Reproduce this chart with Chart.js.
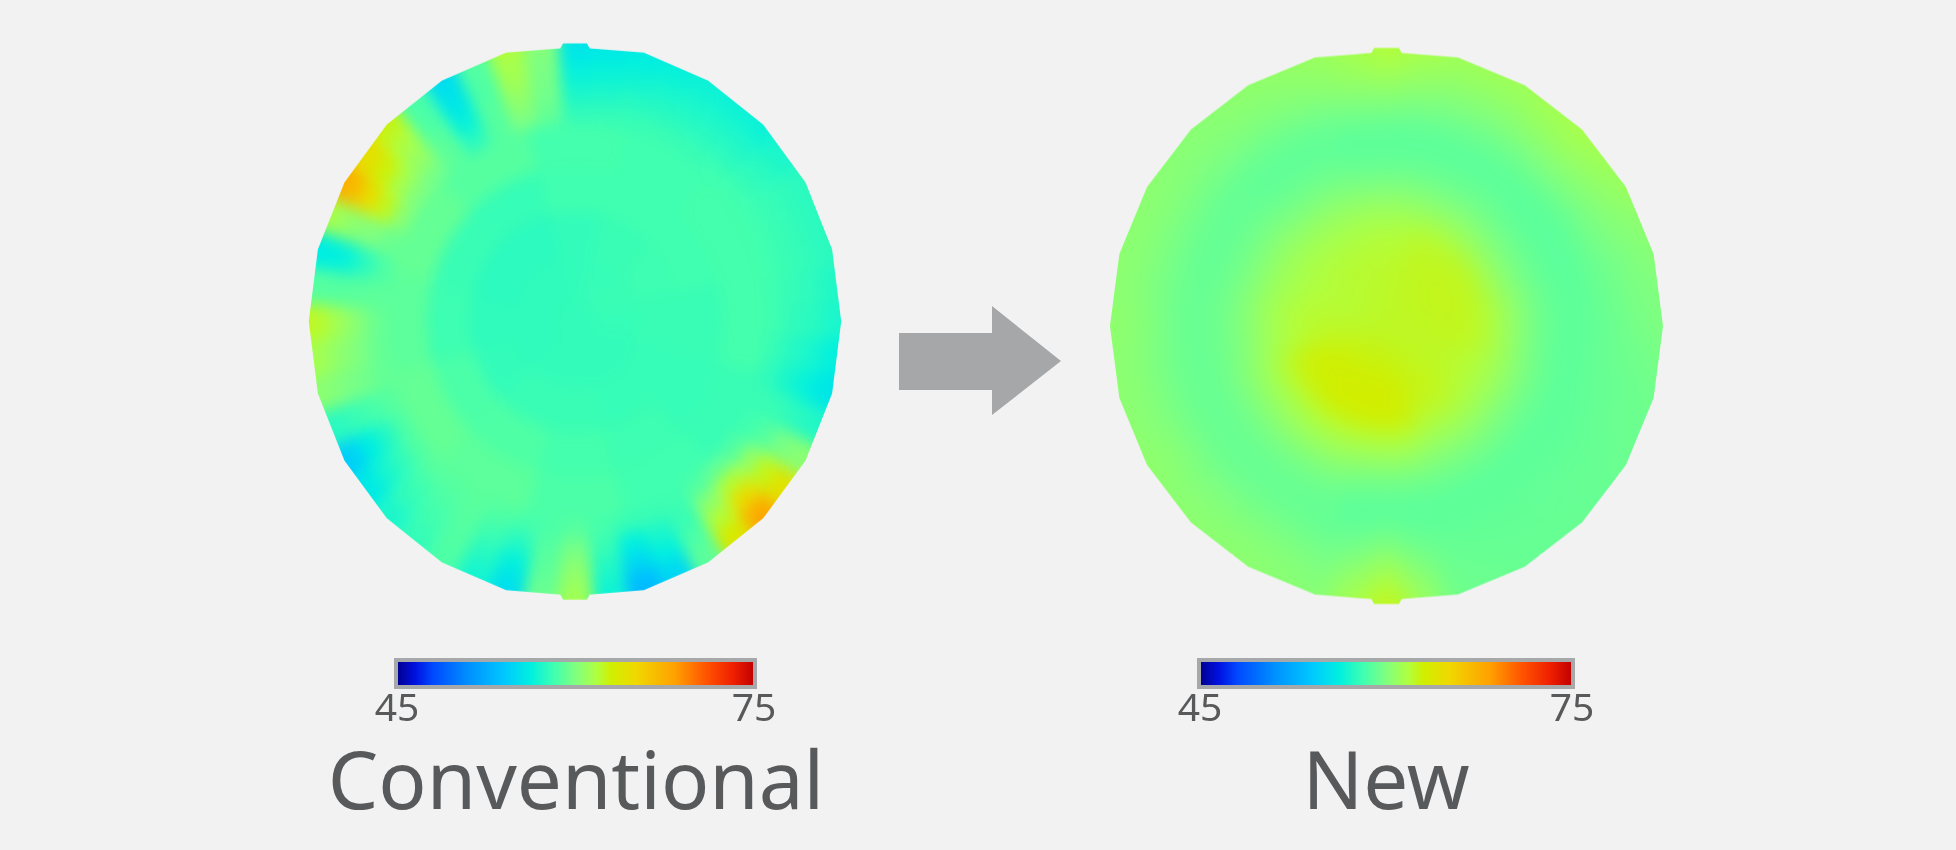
<!DOCTYPE html>
<html>
<head>
<meta charset="utf-8">
<title>Conventional vs New</title>
<script src="https://cdn.jsdelivr.net/npm/chart.js@4"></script>
<style>
  html, body { margin: 0; width: 1956px; height: 850px; background: #f2f2f2; overflow: hidden; }
  .map { position: absolute; }
  #leftChart { filter: blur(7px); }
  #rightChart { filter: blur(12px); }
  .bar { position: absolute; }
  #arrow {
    position: absolute; left: 899px; top: 306px; width: 162px; height: 109px; background: #a6a7a9;
    clip-path: polygon(0 27px, 93px 27px, 93px 0, 162px 55px, 93px 109px, 93px 84px, 0 84px);
  }
</style>
</head>
<body>
<div class="map" id="leftMap"><canvas id="leftChart"></canvas></div>
<div class="map" id="rightMap"><canvas id="rightChart"></canvas></div>
<div id="arrow"></div>
<div class="bar"><canvas id="leftBar"></canvas></div>
<div class="bar"><canvas id="rightBar"></canvas></div>
<script>
const scaleMin = 45;
const scaleMax = 75;
const scaleTicks = [45, 75];

// conventional map, rings from the rim inwards, sectors clockwise from the top
const leftRim = [55.5,55.7,56,56.2,56.5,56.5,56.5,57,57.5,57.5,57.5,57.2,57,56.2,55.5,57.2,60.5,64.5,68.5,64,59,54.5,53,56.5,61.5,59.5,55,56.7,58.5,57.7,57,55.5,54,57.5,60.5,61.5,62.5,58.7,56,62,68,65,63,58.5,55,58.7,62,60.5];
const leftOuter1 = [55.8,56,56.3,56.5,56.7,56.7,56.7,57.1,57.6,57.6,57.6,57.3,57.1,56.4,55.8,57.3,60.3,64,67.5,63.5,59,55,53.5,56.8,61,59.3,55.5,57,58.6,57.9,57.2,56,54.7,57.6,60.3,61.2,62.1,58.8,56.2,61,66.8,64.2,62.3,58.5,55.4,58.7,61.5,60];
const leftOuter2 = [56.45,56.6,56.8,57,57.1,57.15,57.2,57.5,57.8,57.8,57.8,57.65,57.5,57,56.45,57.6,59.8,62.5,64.5,62,58.5,56.3,55,57.3,60.5,59,56.4,57.5,58.7,58.2,57.8,57,56.2,58,59.9,60.5,61.2,58.8,56.5,60.3,64.5,62.8,61.5,58.6,55.8,58.6,61.2,59.8];
const leftOuter3 = [57.05,57.2,57.4,57.45,57.5,57.55,57.6,57.8,58,58,58,57.85,57.7,57.4,57.05,57.9,58.8,60.8,62,60.5,58,57.1,56.3,57.9,59.8,58.8,57.4,58.1,58.8,58.5,58.2,57.75,57.3,58.4,59.6,60,60.3,58.9,57.5,60,62.4,61.4,60.8,58.9,56.5,58.8,60.6,59.6];
const leftOuter4 = [57.7,57.8,57.9,58,58,58,58.1,58.2,58.2,58.2,58.2,58.1,58.1,57.9,57.7,58,58.2,58.8,59.3,58.8,58.1,58,57.9,58.3,58.9,58.5,58.3,58.6,58.9,58.8,58.8,58.6,58.5,58.8,59.2,59.3,59.4,59,58.5,59.4,60.4,60.1,59.8,59,57.5,58.8,60,59.2];
const leftInner1 = [58.3,58.2,58.3,58.3,58,58.2,58.5,59,59.2,59,59.2,58.8];
const leftInner2 = [58.2,58.2,58.2,58,57.9,58.1,58.3,58.6,58.5,58.1,58,57.9];
const leftInner3 = [57.8,58,58.1,58,57.9,57.9,58,58,57.8,57.7,57.6,57.6];
const leftInner4 = [57.8,57.9,58,57.9,57.8,57.8,57.8,57.8,57.7,57.7,57.7,57.7];
const leftCore = [57.8];

// new map
const rightRim = [62,61.6,61.2,61.2,61.2,61.4,61.6,61.3,61,60.6,60.3,60.1,60,59.8,59.6,59.5,59.4,59.3,59.3,59.3,59.3,59.4,59.5,61,62.7,61.5,60.3,60.4,60.5,60.5,60.5,60.5,60.6,60.5,60.5,60.5,60.6,60.5,60.5,60.5,60.5,60.4,60.4,60.5,60.6,60.8,61,61.5];
const rightOuter1 = [61.7,61.3,61,61,61,61.2,61.3,61.1,60.8,60.4,60.2,60,59.9,59.7,59.5,59.4,59.4,59.3,59.3,59.3,59.3,59.4,59.5,60.8,62.2,61.2,60.2,60.3,60.4,60.4,60.4,60.4,60.5,60.4,60.4,60.4,60.5,60.4,60.4,60.4,60.4,60.3,60.3,60.4,60.5,60.6,60.8,61.2];
const rightOuter2 = [61,60.7,60.5,60.5,60.5,60.7,60.8,60.6,60.4,60.1,59.9,59.8,59.7,59.5,59.4,59.4,59.3,59.3,59.2,59.2,59.2,59.3,59.4,60.3,61.4,60.6,59.9,60.1,60.2,60.2,60.2,60.2,60.3,60.2,60.2,60.2,60.3,60.2,60.2,60.2,60.2,60.1,60.1,60.2,60.2,60.3,60.5,60.8];
const rightOuter3 = [60.3,60.1,60,60,60,60.1,60.2,60.1,59.9,59.8,59.6,59.5,59.4,59.4,59.3,59.3,59.2,59.2,59.2,59.2,59.2,59.2,59.3,59.7,60.5,59.9,59.6,59.7,59.8,59.8,59.8,59.8,59.9,59.8,59.8,59.8,59.9,59.8,59.8,59.8,59.8,59.8,59.8,59.8,59.8,59.9,60,60.2];
const rightOuter4 = [59.5,59.4,59.4,59.4,59.4,59.4,59.5,59.4,59.3,59.3,59.2,59.2,59.2,59.2,59.2,59.1,59.1,59.1,59.1,59.1,59.1,59.1,59.1,59.2,59.6,59.3,59.2,59.3,59.4,59.4,59.4,59.4,59.4,59.4,59.4,59.4,59.4,59.4,59.4,59.4,59.4,59.3,59.3,59.3,59.3,59.3,59.4,59.5];
const rightInner1 = [59,59,58.9,59,59,59,59,59.3,59.3,59.3,59.2,59.1];
const rightInner2 = [59.3,59.3,59.2,59.3,59.4,59.5,59.5,59.8,59.8,59.7,59.6,59.5];
const rightInner3 = [60.1,60,59.9,60.1,60.2,60.3,60.6,60.8,60.7,60.4,60.3,60.2];
const rightInner4 = [61,61,60.9,61.2,61.2,61.3,61.8,61.8,61.7,61.3,61.1,61];
const rightInner5 = [61.8,62.2,62.3,62.2,61.9,62.2,63,63,62.8,61.9,61.6,61.6];
const rightInner6 = [62.1,62.4,62.5,62.5,62.2,62.6,63.2,63.1,63,62.2,61.9,62];
const rightInner7 = [62.2,62.4,62.5,62.4,62.3,62.5,62.9,62.9,62.8,62.2,62,62.1];
const rightInner8 = [62.2,62.3,62.4,62.3,62.3,62.4,62.6,62.6,62.5,62.2,62.1,62.2];
const rightCore = [62.3];

const leftWeights = [0.08, 0.07, 0.07, 0.07, 0.07, 0.16, 0.16, 0.16, 0.16, 0.08];
const rightWeights = [0.15, 0.07, 0.07, 0.07, 0.07, 0.1, 0.08, 0.08, 0.08, 0.08, 0.08, 0.08, 0.08, 0.06];

const palette = [
  [0, [0, 0, 143]], [0.05, [0, 16, 224]], [0.1, [0, 72, 255]], [0.2, [0, 144, 255]], [0.3, [0, 200, 255]],
  [0.375, [0, 240, 224]], [0.44, [64, 255, 176]], [0.5, [128, 255, 128]], [0.56, [176, 255, 64]], [0.6, [208, 239, 0]],
  [0.67, [240, 216, 0]], [0.78, [255, 160, 0]], [0.87, [255, 80, 0]], [0.94, [240, 32, 0]], [1, [192, 0, 0]]
];

function colorAt(t) {
  for (let i = 1; i < palette.length; i++) {
    if (t <= palette[i][0]) {
      const [t0, c0] = palette[i - 1];
      const [t1, c1] = palette[i];
      const k = (t - t0) / (t1 - t0);
      return `rgb(${c0.map((c, j) => Math.round(c + (c1[j] - c) * k)).join(",")})`;
    }
  }
  return "rgb(192,0,0)";
}

const valueColor = (v) => colorAt((v - scaleMin) / (scaleMax - scaleMin));

function outline(pad) {
  // 24 sided outline, flatter at top and bottom with a small nub
  const f = 50 / pad;
  const pts = [];
  for (let i = 0; i < 24; i++) {
    const a = (i * 15 * Math.PI) / 180;
    if (i === 0) { pts.push([-0.055, -0.982], [-0.045, -1], [0.045, -1], [0.055, -0.982]); continue; }
    if (i === 12) { pts.push([0.055, 0.982], [0.045, 1], [-0.045, 1], [-0.055, 0.982]); continue; }
    pts.push([Math.sin(a), -Math.cos(a)]);
  }
  return pts.map(([x, y]) => `${(50 + f * x).toFixed(2)}% ${(50 + f * y).toFixed(2)}%`).join(",");
}

function drawMap(canvasId, wrapId, rings, weights, cx, cy, rx, ry) {
  const pad = weights.reduce((a, b) => a + b, 0);
  const size = Math.round(2 * pad * rx);
  const wrap = document.getElementById(wrapId);
  wrap.style.cssText = `left:${cx - size / 2}px;top:${cy - size / 2}px;width:${size}px;height:${size}px;transform:scaleY(${ry / rx});`;
  wrap.style.clipPath = `polygon(${outline(pad)})`;
  const canvas = document.getElementById(canvasId);
  canvas.width = size;
  canvas.height = size;
  new Chart(canvas, {
    type: "doughnut",
    data: {
      datasets: rings.map((values, i) => {
        const colors = values.map(valueColor);
        return {
          data: values.map(() => 1),
          backgroundColor: colors,
          borderColor: colors,
          borderWidth: 1,
          weight: weights[i],
          rotation: -180 / values.length
        };
      })
    },
    options: {
      responsive: false,
      animation: false,
      cutout: 0,
      events: [],
      plugins: { legend: { display: false }, tooltip: { enabled: false } }
    }
  });
}

function drawBar(canvasId, title, left, right) {
  const canvas = document.getElementById(canvasId);
  const boxWidth = 560;
  const boxLeft = Math.round((left + right) / 2) - boxWidth / 2;
  canvas.width = boxWidth;
  canvas.height = 171;
  canvas.parentElement.style.cssText = `left:${boxLeft}px;top:655px;width:${boxWidth}px;height:171px;`;
  // the axis runs over the whole canvas, so the 45..75 part lands between left and right
  const perPixel = (scaleMax - scaleMin) / (right - left);
  new Chart(canvas, {
    type: "bar",
    data: {
      labels: [""],
      datasets: [{
        data: [[scaleMin, scaleMax]],
        barThickness: 25,
        borderWidth: 4,
        borderColor: "#a6a8aa",
        borderSkipped: false,
        inflateAmount: 3,
        clip: false,
        backgroundColor: (ctx) => {
          const { chart } = ctx;
          if (!chart.chartArea) return "#000";
          const x = chart.scales.x;
          const g = chart.ctx.createLinearGradient(x.getPixelForValue(scaleMin), 0, x.getPixelForValue(scaleMax), 0);
          palette.forEach(([t]) => g.addColorStop(t, colorAt(t)));
          return g;
        }
      }]
    },
    options: {
      indexAxis: "y",
      responsive: false,
      animation: false,
      events: [],
      layout: { padding: { left: 0, right: 0, top: 4, bottom: 0 } },
      plugins: {
        legend: { display: false },
        tooltip: { enabled: false },
        title: {
          display: true,
          text: title,
          position: "bottom",
          color: "#58595b",
          padding: { top: 15, bottom: 0 },
          font: { family: "Noto Sans", size: 80, weight: "400", lineHeight: 1 }
        }
      },
      scales: {
        y: { display: false },
        x: {
          min: scaleMin - (left - boxLeft) * perPixel,
          max: scaleMax + (boxLeft + boxWidth - right) * perPixel,
          afterBuildTicks: (axis) => { axis.ticks = scaleTicks.map((value) => ({ value })); },
          grid: { display: false, drawTicks: false },
          border: { display: false },
          ticks: {
            color: "#58595b",
            padding: 2,
            maxRotation: 0,
            font: { family: "Noto Sans", size: 39, weight: "400", lineHeight: 1 }
          }
        }
      }
    }
  });
}

drawMap("leftChart", "leftMap",
  [leftRim, leftOuter1, leftOuter2, leftOuter3, leftOuter4, leftInner1, leftInner2, leftInner3, leftInner4, leftCore],
  leftWeights, 575, 321.5, 266, 278);
drawMap("rightChart", "rightMap",
  [rightRim, rightOuter1, rightOuter2, rightOuter3, rightOuter4, rightInner1, rightInner2, rightInner3, rightInner4,
   rightInner5, rightInner6, rightInner7, rightInner8, rightCore],
  rightWeights, 1386.5, 326, 276.5, 278);

drawBar("leftBar", "Conventional", 397, 754);
drawBar("rightBar", "New", 1200, 1572);
</script>
</body>
</html>
